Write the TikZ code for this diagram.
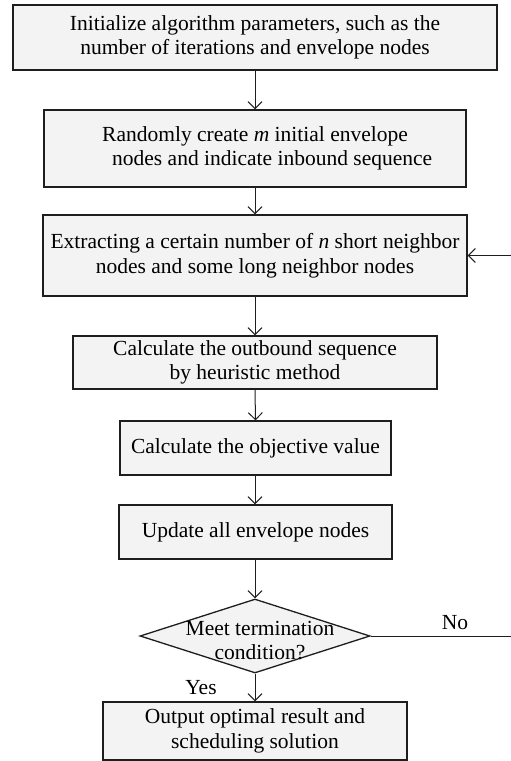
\documentclass[tikz,border=0pt]{standalone}
\usepackage{fontspec}
\setmainfont{Liberation Serif}
\usetikzlibrary{arrows.meta,shapes.geometric}
\definecolor{boxfill}{RGB}{242,243,242}
\definecolor{inkline}{RGB}{30,30,30}
\begin{document}
\begin{tikzpicture}[x=1pt,y=-1pt,
  stepbox/.style={draw=inkline,fill=boxfill,line width=1.3pt,rectangle,
    inner sep=0pt,align=center,font=\fontsize{21.5}{24.5}\selectfont},
  decbox/.style={draw=inkline,fill=boxfill,line width=1.3pt,diamond,
    inner sep=0pt,minimum width=230pt,minimum height=74pt},
  lbl/.style={inner sep=0pt,font=\fontsize{21.5}{24.5}\selectfont},
  flow/.style={draw=inkline,line width=1pt,-{Straight Barb[length=7pt,width=14pt,line width=1pt]}},
  plain/.style={draw=inkline,line width=1pt}]
\useasboundingbox (0,0) rectangle (511,761);

\node[stepbox,minimum width=484pt,minimum height=65pt] (init) at (255,37.5)
  {Initialize algorithm parameters, such as the\\number of iterations and envelope nodes};
\node[stepbox,minimum width=422pt,minimum height=77pt] (rand) at (255,148.5)
  {Randomly create \textit{m} initial envelope\\\hspace*{1.6em}nodes and indicate inbound sequence};
\node[stepbox,minimum width=424pt,minimum height=81pt] (extr) at (255,255.5)
  {Extracting a certain number of \textit{n} short neighbor\\nodes and some long neighbor nodes};
\node[stepbox,minimum width=364pt,minimum height=53pt] (outb) at (255,362.5)
  {Calculate the outbound sequence\\by heuristic method};
\node[stepbox,minimum width=271pt,minimum height=54pt] (obj) at (255.5,448)
  {Calculate the objective value};
\node[stepbox,minimum width=273pt,minimum height=54pt] (upd) at (255.5,532)
  {Update all envelope nodes};
\node[decbox] (dec) at (255,636) {};
\node[lbl,align=center] (dect) at (260,640.5) {Meet termination\\condition?};
\node[stepbox,minimum width=304pt,minimum height=58pt] (outp) at (255,731)
  {Output optimal result and\\scheduling solution};

\coordinate (nodown) at (511,636);
\coordinate (noup) at (511,255.5);

\path[flow] (init.south) -- (rand.north);
\path[flow] (rand.south) -- (extr.north);
\path[flow] (extr.south) -- (outb.north);
\path[flow] (outb.south) -- (obj.north);
\path[flow] ([xshift=-0.5pt]obj.south) -- ([xshift=-0.5pt]upd.north);
\path[flow] ([xshift=-0.5pt]upd.south) -- (dec.north);
\path[flow] (dec.south) -- (outp.north);
\path[plain] (dec.east) -- (nodown) -- (noup);
\path[flow] (noup) -- (extr.east);

\node[lbl] (nolbl) at (455,623) {No};
\node[lbl] (yeslbl) at (201,688) {Yes};
\end{tikzpicture}
\end{document}
